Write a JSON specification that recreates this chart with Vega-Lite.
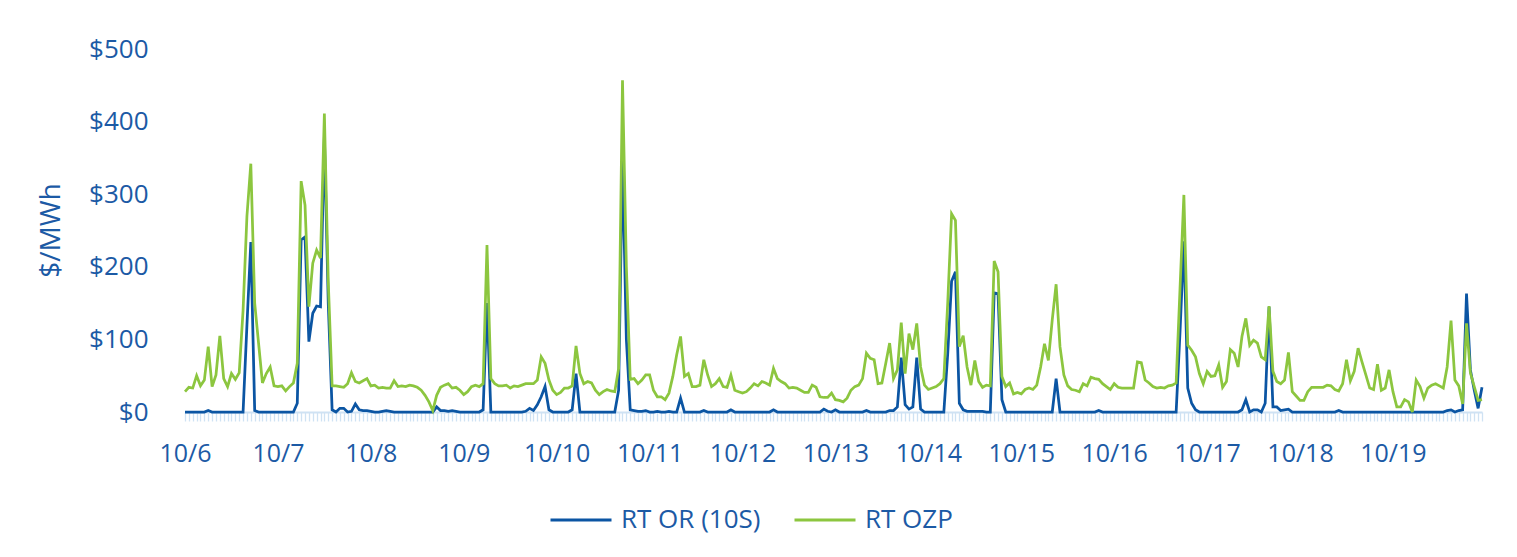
{
"$schema":"https://vega.github.io/schema/vega-lite/v6.json",
"width":1297,"height":363,
"autosize":{"type":"none"},
"padding":{"left":185,"top":49,"right":35,"bottom":145},
"background":"white",
"config":{"view":{"stroke":null},"font":"Open Sans"},
"data":{"values":[
{"t":"2024-10-06T00:00","or":0,"ozp":28},{"t":"2024-10-06T01:00","or":0,"ozp":34},{"t":"2024-10-06T02:00","or":0,"ozp":33},{"t":"2024-10-06T03:00","or":0,"ozp":50},{"t":"2024-10-06T04:00","or":0,"ozp":36},{"t":"2024-10-06T05:00","or":0,"ozp":44},{"t":"2024-10-06T06:00","or":2,"ozp":90},{"t":"2024-10-06T07:00","or":0,"ozp":35},{"t":"2024-10-06T08:00","or":0,"ozp":51},{"t":"2024-10-06T09:00","or":0,"ozp":105},{"t":"2024-10-06T10:00","or":0,"ozp":46},{"t":"2024-10-06T11:00","or":0,"ozp":35},{"t":"2024-10-06T12:00","or":0,"ozp":53},{"t":"2024-10-06T13:00","or":0,"ozp":45},{"t":"2024-10-06T14:00","or":0,"ozp":54},{"t":"2024-10-06T15:00","or":0,"ozp":140},{"t":"2024-10-06T16:00","or":120,"ozp":270},{"t":"2024-10-06T17:00","or":234,"ozp":342},{"t":"2024-10-06T18:00","or":2,"ozp":150},{"t":"2024-10-06T19:00","or":0,"ozp":95},{"t":"2024-10-06T20:00","or":0,"ozp":40},{"t":"2024-10-06T21:00","or":0,"ozp":53},{"t":"2024-10-06T22:00","or":0,"ozp":62},{"t":"2024-10-06T23:00","or":0,"ozp":36},
{"t":"2024-10-07T00:00","or":0,"ozp":35},{"t":"2024-10-07T01:00","or":0,"ozp":36},{"t":"2024-10-07T02:00","or":0,"ozp":29},{"t":"2024-10-07T03:00","or":0,"ozp":35},{"t":"2024-10-07T04:00","or":0,"ozp":40},{"t":"2024-10-07T05:00","or":12,"ozp":67},{"t":"2024-10-07T06:00","or":237,"ozp":318},{"t":"2024-10-07T07:00","or":241,"ozp":285},{"t":"2024-10-07T08:00","or":97,"ozp":145},{"t":"2024-10-07T09:00","or":136,"ozp":205},{"t":"2024-10-07T10:00","or":146,"ozp":223},{"t":"2024-10-07T11:00","or":145,"ozp":212},{"t":"2024-10-07T12:00","or":380,"ozp":411},{"t":"2024-10-07T13:00","or":150,"ozp":180},{"t":"2024-10-07T14:00","or":3,"ozp":36},{"t":"2024-10-07T15:00","or":0,"ozp":36},{"t":"2024-10-07T16:00","or":5,"ozp":35},{"t":"2024-10-07T17:00","or":5,"ozp":34},{"t":"2024-10-07T18:00","or":0,"ozp":39},{"t":"2024-10-07T19:00","or":1,"ozp":54},{"t":"2024-10-07T20:00","or":11,"ozp":42},{"t":"2024-10-07T21:00","or":3,"ozp":40},{"t":"2024-10-07T22:00","or":2,"ozp":43},{"t":"2024-10-07T23:00","or":2,"ozp":46},
{"t":"2024-10-08T00:00","or":1,"ozp":36},{"t":"2024-10-08T01:00","or":0,"ozp":37},{"t":"2024-10-08T02:00","or":0,"ozp":33},{"t":"2024-10-08T03:00","or":1,"ozp":34},{"t":"2024-10-08T04:00","or":2,"ozp":33},{"t":"2024-10-08T05:00","or":1,"ozp":33},{"t":"2024-10-08T06:00","or":0,"ozp":43},{"t":"2024-10-08T07:00","or":0,"ozp":35},{"t":"2024-10-08T08:00","or":0,"ozp":36},{"t":"2024-10-08T09:00","or":0,"ozp":35},{"t":"2024-10-08T10:00","or":0,"ozp":37},{"t":"2024-10-08T11:00","or":0,"ozp":36},{"t":"2024-10-08T12:00","or":0,"ozp":34},{"t":"2024-10-08T13:00","or":0,"ozp":30},{"t":"2024-10-08T14:00","or":0,"ozp":23},{"t":"2024-10-08T15:00","or":0,"ozp":14},{"t":"2024-10-08T16:00","or":0,"ozp":2},{"t":"2024-10-08T17:00","or":7,"ozp":23},{"t":"2024-10-08T18:00","or":2,"ozp":34},{"t":"2024-10-08T19:00","or":2,"ozp":37},{"t":"2024-10-08T20:00","or":1,"ozp":39},{"t":"2024-10-08T21:00","or":2,"ozp":33},{"t":"2024-10-08T22:00","or":1,"ozp":34},{"t":"2024-10-08T23:00","or":0,"ozp":30},
{"t":"2024-10-09T00:00","or":0,"ozp":24},{"t":"2024-10-09T01:00","or":0,"ozp":28},{"t":"2024-10-09T02:00","or":0,"ozp":35},{"t":"2024-10-09T03:00","or":0,"ozp":37},{"t":"2024-10-09T04:00","or":0,"ozp":35},{"t":"2024-10-09T05:00","or":3,"ozp":39},{"t":"2024-10-09T06:00","or":150,"ozp":230},{"t":"2024-10-09T07:00","or":0,"ozp":46},{"t":"2024-10-09T08:00","or":0,"ozp":39},{"t":"2024-10-09T09:00","or":0,"ozp":36},{"t":"2024-10-09T10:00","or":0,"ozp":36},{"t":"2024-10-09T11:00","or":0,"ozp":37},{"t":"2024-10-09T12:00","or":0,"ozp":33},{"t":"2024-10-09T13:00","or":0,"ozp":36},{"t":"2024-10-09T14:00","or":0,"ozp":35},{"t":"2024-10-09T15:00","or":0,"ozp":37},{"t":"2024-10-09T16:00","or":1,"ozp":39},{"t":"2024-10-09T17:00","or":5,"ozp":39},{"t":"2024-10-09T18:00","or":2,"ozp":39},{"t":"2024-10-09T19:00","or":10,"ozp":44},{"t":"2024-10-09T20:00","or":21,"ozp":76},{"t":"2024-10-09T21:00","or":35,"ozp":67},{"t":"2024-10-09T22:00","or":3,"ozp":44},{"t":"2024-10-09T23:00","or":0,"ozp":30},
{"t":"2024-10-10T00:00","or":0,"ozp":24},{"t":"2024-10-10T01:00","or":0,"ozp":27},{"t":"2024-10-10T02:00","or":0,"ozp":33},{"t":"2024-10-10T03:00","or":0,"ozp":33},{"t":"2024-10-10T04:00","or":3,"ozp":36},{"t":"2024-10-10T05:00","or":53,"ozp":91},{"t":"2024-10-10T06:00","or":0,"ozp":53},{"t":"2024-10-10T07:00","or":0,"ozp":39},{"t":"2024-10-10T08:00","or":0,"ozp":42},{"t":"2024-10-10T09:00","or":0,"ozp":40},{"t":"2024-10-10T10:00","or":0,"ozp":30},{"t":"2024-10-10T11:00","or":0,"ozp":24},{"t":"2024-10-10T12:00","or":0,"ozp":28},{"t":"2024-10-10T13:00","or":0,"ozp":31},{"t":"2024-10-10T14:00","or":0,"ozp":29},{"t":"2024-10-10T15:00","or":0,"ozp":28},{"t":"2024-10-10T16:00","or":30,"ozp":60},{"t":"2024-10-10T17:00","or":350,"ozp":457},{"t":"2024-10-10T18:00","or":100,"ozp":200},{"t":"2024-10-10T19:00","or":3,"ozp":45},{"t":"2024-10-10T20:00","or":2,"ozp":46},{"t":"2024-10-10T21:00","or":1,"ozp":39},{"t":"2024-10-10T22:00","or":1,"ozp":44},{"t":"2024-10-10T23:00","or":2,"ozp":51},
{"t":"2024-10-11T00:00","or":0,"ozp":51},{"t":"2024-10-11T01:00","or":0,"ozp":30},{"t":"2024-10-11T02:00","or":1,"ozp":21},{"t":"2024-10-11T03:00","or":0,"ozp":21},{"t":"2024-10-11T04:00","or":0,"ozp":17},{"t":"2024-10-11T05:00","or":1,"ozp":26},{"t":"2024-10-11T06:00","or":0,"ozp":49},{"t":"2024-10-11T07:00","or":0,"ozp":79},{"t":"2024-10-11T08:00","or":19,"ozp":104},{"t":"2024-10-11T09:00","or":0,"ozp":49},{"t":"2024-10-11T10:00","or":0,"ozp":53},{"t":"2024-10-11T11:00","or":0,"ozp":35},{"t":"2024-10-11T12:00","or":0,"ozp":35},{"t":"2024-10-11T13:00","or":0,"ozp":37},{"t":"2024-10-11T14:00","or":2,"ozp":72},{"t":"2024-10-11T15:00","or":0,"ozp":51},{"t":"2024-10-11T16:00","or":0,"ozp":35},{"t":"2024-10-11T17:00","or":0,"ozp":39},{"t":"2024-10-11T18:00","or":0,"ozp":46},{"t":"2024-10-11T19:00","or":0,"ozp":35},{"t":"2024-10-11T20:00","or":0,"ozp":34},{"t":"2024-10-11T21:00","or":3,"ozp":51},{"t":"2024-10-11T22:00","or":0,"ozp":30},{"t":"2024-10-11T23:00","or":0,"ozp":28},
{"t":"2024-10-12T00:00","or":0,"ozp":26},{"t":"2024-10-12T01:00","or":0,"ozp":28},{"t":"2024-10-12T02:00","or":0,"ozp":33},{"t":"2024-10-12T03:00","or":0,"ozp":39},{"t":"2024-10-12T04:00","or":0,"ozp":36},{"t":"2024-10-12T05:00","or":0,"ozp":42},{"t":"2024-10-12T06:00","or":0,"ozp":40},{"t":"2024-10-12T07:00","or":0,"ozp":37},{"t":"2024-10-12T08:00","or":3,"ozp":60},{"t":"2024-10-12T09:00","or":0,"ozp":46},{"t":"2024-10-12T10:00","or":0,"ozp":42},{"t":"2024-10-12T11:00","or":0,"ozp":39},{"t":"2024-10-12T12:00","or":0,"ozp":33},{"t":"2024-10-12T13:00","or":0,"ozp":34},{"t":"2024-10-12T14:00","or":0,"ozp":33},{"t":"2024-10-12T15:00","or":0,"ozp":30},{"t":"2024-10-12T16:00","or":0,"ozp":27},{"t":"2024-10-12T17:00","or":0,"ozp":27},{"t":"2024-10-12T18:00","or":0,"ozp":37},{"t":"2024-10-12T19:00","or":0,"ozp":34},{"t":"2024-10-12T20:00","or":0,"ozp":21},{"t":"2024-10-12T21:00","or":4,"ozp":20},{"t":"2024-10-12T22:00","or":1,"ozp":20},{"t":"2024-10-12T23:00","or":0,"ozp":26},
{"t":"2024-10-13T00:00","or":3,"ozp":17},{"t":"2024-10-13T01:00","or":0,"ozp":16},{"t":"2024-10-13T02:00","or":0,"ozp":14},{"t":"2024-10-13T03:00","or":0,"ozp":19},{"t":"2024-10-13T04:00","or":0,"ozp":30},{"t":"2024-10-13T05:00","or":0,"ozp":35},{"t":"2024-10-13T06:00","or":0,"ozp":37},{"t":"2024-10-13T07:00","or":0,"ozp":46},{"t":"2024-10-13T08:00","or":2,"ozp":81},{"t":"2024-10-13T09:00","or":0,"ozp":74},{"t":"2024-10-13T10:00","or":0,"ozp":72},{"t":"2024-10-13T11:00","or":0,"ozp":39},{"t":"2024-10-13T12:00","or":0,"ozp":40},{"t":"2024-10-13T13:00","or":0,"ozp":67},{"t":"2024-10-13T14:00","or":2,"ozp":95},{"t":"2024-10-13T15:00","or":2,"ozp":46},{"t":"2024-10-13T16:00","or":7,"ozp":58},{"t":"2024-10-13T17:00","or":75,"ozp":123},{"t":"2024-10-13T18:00","or":10,"ozp":53},{"t":"2024-10-13T19:00","or":4,"ozp":108},{"t":"2024-10-13T20:00","or":7,"ozp":86},{"t":"2024-10-13T21:00","or":75,"ozp":122},{"t":"2024-10-13T22:00","or":4,"ozp":62},{"t":"2024-10-13T23:00","or":0,"ozp":37},
{"t":"2024-10-14T00:00","or":0,"ozp":31},{"t":"2024-10-14T01:00","or":0,"ozp":33},{"t":"2024-10-14T02:00","or":0,"ozp":35},{"t":"2024-10-14T03:00","or":0,"ozp":39},{"t":"2024-10-14T04:00","or":0,"ozp":46},{"t":"2024-10-14T05:00","or":80,"ozp":150},{"t":"2024-10-14T06:00","or":180,"ozp":273},{"t":"2024-10-14T07:00","or":193,"ozp":264},{"t":"2024-10-14T08:00","or":12,"ozp":90},{"t":"2024-10-14T09:00","or":3,"ozp":105},{"t":"2024-10-14T10:00","or":1,"ozp":62},{"t":"2024-10-14T11:00","or":1,"ozp":37},{"t":"2024-10-14T12:00","or":1,"ozp":71},{"t":"2024-10-14T13:00","or":1,"ozp":42},{"t":"2024-10-14T14:00","or":1,"ozp":34},{"t":"2024-10-14T15:00","or":0,"ozp":37},{"t":"2024-10-14T16:00","or":0,"ozp":36},{"t":"2024-10-14T17:00","or":164,"ozp":208},{"t":"2024-10-14T18:00","or":163,"ozp":193},{"t":"2024-10-14T19:00","or":17,"ozp":49},{"t":"2024-10-14T20:00","or":0,"ozp":35},{"t":"2024-10-14T21:00","or":0,"ozp":40},{"t":"2024-10-14T22:00","or":0,"ozp":25},{"t":"2024-10-14T23:00","or":0,"ozp":27},
{"t":"2024-10-15T00:00","or":0,"ozp":25},{"t":"2024-10-15T01:00","or":0,"ozp":31},{"t":"2024-10-15T02:00","or":0,"ozp":33},{"t":"2024-10-15T03:00","or":0,"ozp":31},{"t":"2024-10-15T04:00","or":0,"ozp":37},{"t":"2024-10-15T05:00","or":0,"ozp":62},{"t":"2024-10-15T06:00","or":0,"ozp":94},{"t":"2024-10-15T07:00","or":0,"ozp":71},{"t":"2024-10-15T08:00","or":0,"ozp":127},{"t":"2024-10-15T09:00","or":46,"ozp":176},{"t":"2024-10-15T10:00","or":0,"ozp":90},{"t":"2024-10-15T11:00","or":0,"ozp":51},{"t":"2024-10-15T12:00","or":0,"ozp":36},{"t":"2024-10-15T13:00","or":0,"ozp":31},{"t":"2024-10-15T14:00","or":0,"ozp":30},{"t":"2024-10-15T15:00","or":0,"ozp":28},{"t":"2024-10-15T16:00","or":0,"ozp":39},{"t":"2024-10-15T17:00","or":0,"ozp":36},{"t":"2024-10-15T18:00","or":0,"ozp":48},{"t":"2024-10-15T19:00","or":0,"ozp":46},{"t":"2024-10-15T20:00","or":2,"ozp":45},{"t":"2024-10-15T21:00","or":0,"ozp":39},{"t":"2024-10-15T22:00","or":0,"ozp":35},{"t":"2024-10-15T23:00","or":0,"ozp":31},
{"t":"2024-10-16T00:00","or":0,"ozp":39},{"t":"2024-10-16T01:00","or":0,"ozp":34},{"t":"2024-10-16T02:00","or":0,"ozp":33},{"t":"2024-10-16T03:00","or":0,"ozp":33},{"t":"2024-10-16T04:00","or":0,"ozp":33},{"t":"2024-10-16T05:00","or":0,"ozp":33},{"t":"2024-10-16T06:00","or":0,"ozp":69},{"t":"2024-10-16T07:00","or":0,"ozp":68},{"t":"2024-10-16T08:00","or":0,"ozp":44},{"t":"2024-10-16T09:00","or":0,"ozp":40},{"t":"2024-10-16T10:00","or":0,"ozp":35},{"t":"2024-10-16T11:00","or":0,"ozp":33},{"t":"2024-10-16T12:00","or":0,"ozp":34},{"t":"2024-10-16T13:00","or":0,"ozp":33},{"t":"2024-10-16T14:00","or":0,"ozp":36},{"t":"2024-10-16T15:00","or":0,"ozp":37},{"t":"2024-10-16T16:00","or":0,"ozp":40},{"t":"2024-10-16T17:00","or":110,"ozp":170},{"t":"2024-10-16T18:00","or":235,"ozp":299},{"t":"2024-10-16T19:00","or":33,"ozp":92},{"t":"2024-10-16T20:00","or":12,"ozp":85},{"t":"2024-10-16T21:00","or":3,"ozp":76},{"t":"2024-10-16T22:00","or":0,"ozp":53},{"t":"2024-10-16T23:00","or":0,"ozp":39},
{"t":"2024-10-17T00:00","or":0,"ozp":56},{"t":"2024-10-17T01:00","or":0,"ozp":49},{"t":"2024-10-17T02:00","or":0,"ozp":50},{"t":"2024-10-17T03:00","or":0,"ozp":65},{"t":"2024-10-17T04:00","or":0,"ozp":34},{"t":"2024-10-17T05:00","or":0,"ozp":42},{"t":"2024-10-17T06:00","or":0,"ozp":86},{"t":"2024-10-17T07:00","or":0,"ozp":81},{"t":"2024-10-17T08:00","or":0,"ozp":62},{"t":"2024-10-17T09:00","or":3,"ozp":104},{"t":"2024-10-17T10:00","or":17,"ozp":129},{"t":"2024-10-17T11:00","or":0,"ozp":92},{"t":"2024-10-17T12:00","or":3,"ozp":99},{"t":"2024-10-17T13:00","or":3,"ozp":95},{"t":"2024-10-17T14:00","or":0,"ozp":76},{"t":"2024-10-17T15:00","or":12,"ozp":72},{"t":"2024-10-17T16:00","or":145,"ozp":146},{"t":"2024-10-17T17:00","or":7,"ozp":56},{"t":"2024-10-17T18:00","or":7,"ozp":42},{"t":"2024-10-17T19:00","or":2,"ozp":39},{"t":"2024-10-17T20:00","or":3,"ozp":44},{"t":"2024-10-17T21:00","or":4,"ozp":82},{"t":"2024-10-17T22:00","or":0,"ozp":28},{"t":"2024-10-17T23:00","or":0,"ozp":22},
{"t":"2024-10-18T00:00","or":0,"ozp":16},{"t":"2024-10-18T01:00","or":0,"ozp":16},{"t":"2024-10-18T02:00","or":0,"ozp":28},{"t":"2024-10-18T03:00","or":0,"ozp":34},{"t":"2024-10-18T04:00","or":0,"ozp":34},{"t":"2024-10-18T05:00","or":0,"ozp":34},{"t":"2024-10-18T06:00","or":0,"ozp":34},{"t":"2024-10-18T07:00","or":0,"ozp":37},{"t":"2024-10-18T08:00","or":0,"ozp":36},{"t":"2024-10-18T09:00","or":0,"ozp":31},{"t":"2024-10-18T10:00","or":2,"ozp":29},{"t":"2024-10-18T11:00","or":0,"ozp":39},{"t":"2024-10-18T12:00","or":0,"ozp":72},{"t":"2024-10-18T13:00","or":0,"ozp":43},{"t":"2024-10-18T14:00","or":0,"ozp":56},{"t":"2024-10-18T15:00","or":0,"ozp":88},{"t":"2024-10-18T16:00","or":0,"ozp":69},{"t":"2024-10-18T17:00","or":0,"ozp":51},{"t":"2024-10-18T18:00","or":0,"ozp":33},{"t":"2024-10-18T19:00","or":0,"ozp":31},{"t":"2024-10-18T20:00","or":0,"ozp":66},{"t":"2024-10-18T21:00","or":0,"ozp":30},{"t":"2024-10-18T22:00","or":0,"ozp":33},{"t":"2024-10-18T23:00","or":0,"ozp":58},
{"t":"2024-10-19T00:00","or":0,"ozp":28},{"t":"2024-10-19T01:00","or":0,"ozp":7},{"t":"2024-10-19T02:00","or":0,"ozp":7},{"t":"2024-10-19T03:00","or":0,"ozp":17},{"t":"2024-10-19T04:00","or":0,"ozp":14},{"t":"2024-10-19T05:00","or":0,"ozp":0},{"t":"2024-10-19T06:00","or":0,"ozp":44},{"t":"2024-10-19T07:00","or":0,"ozp":35},{"t":"2024-10-19T08:00","or":0,"ozp":19},{"t":"2024-10-19T09:00","or":0,"ozp":33},{"t":"2024-10-19T10:00","or":0,"ozp":37},{"t":"2024-10-19T11:00","or":0,"ozp":39},{"t":"2024-10-19T12:00","or":0,"ozp":36},{"t":"2024-10-19T13:00","or":0,"ozp":33},{"t":"2024-10-19T14:00","or":2,"ozp":62},{"t":"2024-10-19T15:00","or":3,"ozp":126},{"t":"2024-10-19T16:00","or":0,"ozp":44},{"t":"2024-10-19T17:00","or":2,"ozp":36},{"t":"2024-10-19T18:00","or":3,"ozp":11},{"t":"2024-10-19T19:00","or":163,"ozp":122},{"t":"2024-10-19T20:00","or":58,"ozp":54},{"t":"2024-10-19T21:00","or":30,"ozp":35},{"t":"2024-10-19T22:00","or":5,"ozp":16},{"t":"2024-10-19T23:00","or":34,"ozp":17}
]},
"transform":[{"fold":["or","ozp"],"as":["series","price"]}],
"mark":{"type":"line","strokeWidth":2.75},
"encoding":{
"x":{"field":"t","type":"temporal",
"scale":{"nice":false},
"axis":{"title":null,"grid":false,"tickCount":336,
"labelExpr":"hours(datum.value)==0 ? timeFormat(datum.value,'%-m/%-d') : ''",
"labelOverlap":false,"labelFlush":false,"labelBound":false,
"domainColor":"#cfe2f3","domainWidth":2,"tickColor":"#cfe2f3","tickSize":9,"tickWidth":1.3,
"labelFontSize":25,"labelColor":"#1c5aa5","labelPadding":20}},
"y":{"field":"price","type":"quantitative",
"scale":{"domain":[0,500],"nice":false},
"axis":{"title":"$/MWh","values":[0,100,200,300,400,500],"format":"$,.0f",
"domain":false,"ticks":false,"grid":false,
"labelFontSize":26,"labelColor":"#1c5aa5","labelPadding":37,
"titleFontSize":28,"titleColor":"#1c5aa5","titleFontWeight":"normal",
"titleX":-134,"titleY":181,"titleAngle":-90,"titleAlign":"center","titleBaseline":"middle"}},
"color":{"field":"series","type":"nominal",
"scale":{"domain":["or","ozp"],"range":["#0b55a3","#8cc63f"]},
"legend":{"title":null,"orient":"none","legendX":364,"legendY":439,"direction":"horizontal",
"labelExpr":"datum.label=='or' ? 'RT OR (10S)' : 'RT OZP'",
"symbolType":"stroke","symbolSize":3721,"symbolStrokeWidth":3,
"labelFontSize":26,"labelColor":"#1c5aa5","labelOffset":8,"columnPadding":27}}
}
}
